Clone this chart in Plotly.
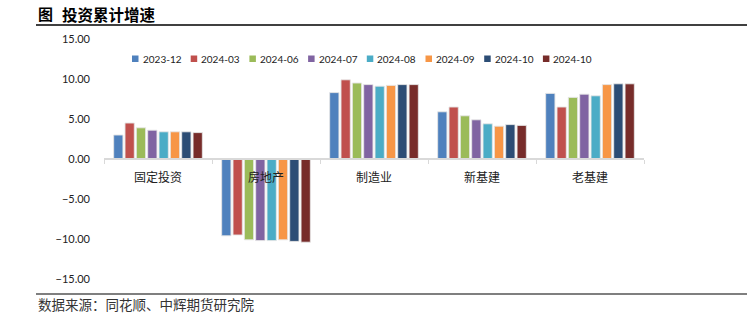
import plotly.graph_objects as go

categories = ["固定投资", "房地产", "制造业", "新基建", "老基建"]
series_names = ["2023-12", "2024-03", "2024-06", "2024-07", "2024-08", "2024-09", "2024-10", "2024-10"]
s_2023_12 = [3.0, -9.6, 8.3, 5.9, 8.2]
s_2024_03 = [4.5, -9.5, 9.9, 6.5, 6.5]
s_2024_06 = [3.9, -10.1, 9.5, 5.4, 7.7]
s_2024_07 = [3.6, -10.2, 9.3, 4.9, 8.1]
s_2024_08 = [3.4, -10.2, 9.1, 4.4, 7.9]
s_2024_09 = [3.4, -10.1, 9.2, 4.1, 9.3]
s_2024_10 = [3.4, -10.3, 9.3, 4.3, 9.4]
s_2024_10b = [3.3, -10.4, 9.3, 4.2, 9.4]
series_values = [s_2023_12, s_2024_03, s_2024_06, s_2024_07, s_2024_08, s_2024_09, s_2024_10, s_2024_10b]
colors = ["#4F81BD", "#C0504D", "#9BBB59", "#8064A2", "#4BACC6", "#F79646", "#2C4D75", "#772C2A"]
y_ticks = [-15, -10, -5, 0, 5, 10, 15]

W, H = 747, 321
L, R, T, B = 104, 103, 39, 42
pw, ph = W - L - R, H - T - B

def px(x):
    return (x - L) / pw

def py(y):
    return 1 - (y - T) / ph

fig = go.Figure()
for name, vals, c in zip(series_names, series_values, colors):
    fig.add_trace(go.Bar(
        x=categories, y=vals, name=name,
        marker=dict(color=c, line=dict(color="rgba(230,230,230,0.9)", width=1)),
        showlegend=False,
    ))

shapes = [
    dict(type="line", xref="paper", yref="paper", x0=px(36), x1=px(747), y0=py(25), y1=py(25),
         line=dict(color="black", width=1.5)),
    dict(type="line", xref="paper", yref="paper", x0=px(36), x1=px(747), y0=py(294), y1=py(294),
         line=dict(color="black", width=1.2)),
]
annotations = [
    dict(text="<b>图</b>", xref="paper", yref="paper", x=px(36), y=py(14),
         xanchor="left", yanchor="middle", showarrow=False,
         font=dict(family="Noto Sans CJK SC", size=15, color="black")),
    dict(text="<b>投资累计增速</b>", xref="paper", yref="paper", x=px(60), y=py(14),
         xanchor="left", yanchor="middle", showarrow=False,
         font=dict(family="Noto Sans CJK SC", size=15.5, color="black")),
    dict(text="数据来源：同花顺、中辉期货研究院", xref="paper", yref="paper", x=px(36), y=py(304),
         xanchor="left", yanchor="middle", showarrow=False,
         font=dict(family="Noto Sans CJK SC", size=13.5, color="#333333")),
]
pitch = 58.7
for i, (name, c) in enumerate(zip(series_names, colors)):
    x0 = 132 + i * pitch
    shapes.append(dict(type="rect", xref="paper", yref="paper",
                       x0=px(x0), x1=px(x0 + 6.5), y0=py(55.5), y1=py(62),
                       fillcolor=c, line=dict(width=0)))
    annotations.append(dict(text=name, xref="paper", yref="paper", x=px(x0 + 8.5), y=py(59),
                            xanchor="left", yanchor="middle", showarrow=False,
                            font=dict(family="Lato", size=10, color="#222222")))

fig.update_layout(
    width=W, height=H,
    margin=dict(l=L, r=R, t=T, b=B),
    paper_bgcolor="white", plot_bgcolor="white",
    barmode="group", bargap=0.16, bargroupgap=0.18,
    shapes=shapes, annotations=annotations,
    xaxis=dict(
        anchor="free", position=0.5, showline=True, linecolor="#D9D9D9", linewidth=1.5,
        ticks="outside", ticklen=4, tickcolor="#D9D9D9", tickson="boundaries",
        ticklabelstandoff=8,
        showgrid=False, tickfont=dict(family="Noto Sans CJK SC", size=12, color="#222222"),
    ),
    yaxis=dict(
        range=[-15, 15], tickvals=y_ticks, tickformat=".2f", showgrid=False, zeroline=False,
        showline=False, ticks="", ticklabelstandoff=13,
        tickfont=dict(family="Lato", size=11, color="#222222"),
    ),
)
fig.write_html("out.html")
